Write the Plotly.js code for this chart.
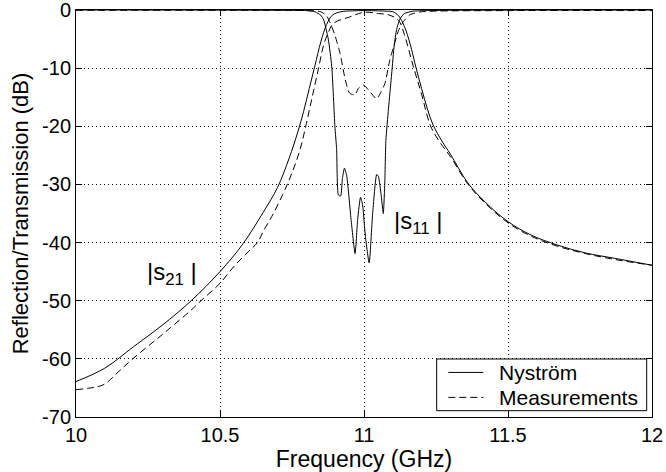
<!DOCTYPE html>
<html>
<head>
<meta charset="utf-8">
<script src="https://cdn.plot.ly/plotly-3.0.1.min.js"></script>
<style>html,body{margin:0;padding:0;background:#fff;}#chart{width:666px;height:472px;}</style>
</head>
<body>
<div id="chart"></div>
<script>
// Nyström |s21|
const nysS21Freq = [10.0,10.1,10.2,10.3,10.4,10.5,10.58,10.65,10.7,10.74,10.77,10.79,10.81,10.83,10.85,10.87,10.89,10.92,10.96,11.0,11.05,11.08,11.1,11.12,11.14,11.16,11.18,11.2,11.22,11.24,11.27,11.3,11.36,11.42,11.5,11.58,11.67,11.77,11.87,12.0];
const nysS21dB   = [-63.9,-61.6,-57.9,-54.2,-50.0,-45.0,-40.2,-34.8,-30.5,-25.5,-21.0,-17.5,-13.5,-9.5,-5.5,-2.5,-0.9,-0.3,-0.15,-0.1,-0.15,-0.2,-0.3,-1.0,-2.8,-5.8,-9.8,-13.5,-17.0,-19.8,-22.5,-24.8,-29.7,-33.0,-36.4,-38.7,-40.4,-41.8,-42.7,-43.9];
// Nyström |s11|
const nysS11Freq = [10.0,10.5,10.7,10.8,10.83,10.85,10.86,10.876,10.888,10.899,10.905,10.911,10.919,10.925,10.932,10.94,10.955,10.969,10.978,10.988,10.995,11.005,11.018,11.03,11.044,11.05,11.06,11.067,11.072,11.076,11.085,11.096,11.105,11.113,11.125,11.14,11.17,11.3,11.6,12.0];
const nysS11dB   = [0.0,-0.02,-0.05,-0.1,-0.3,-0.9,-1.7,-5.0,-9.7,-20.0,-24.0,-31.8,-32.0,-29.0,-27.2,-28.5,-36.0,-41.9,-36.0,-32.2,-33.5,-39.0,-43.5,-35.0,-28.3,-28.6,-32.0,-35.0,-30.0,-22.4,-17.0,-11.0,-6.0,-3.4,-1.5,-0.6,-0.2,-0.05,-0.02,0.0];
// Measurements |s21|
const measS21Freq = [10.0,10.05,10.097,10.15,10.197,10.3,10.4,10.434,10.5,10.55,10.6,10.63,10.653,10.68,10.72,10.75,10.778,10.8,10.82,10.84,10.86,10.875,10.894,10.95,11.0,11.05,11.09,11.12,11.14,11.17,11.2,11.23,11.26,11.3,11.36,11.42,11.5,11.58,11.67,11.77,11.87,12.0];
const measS21dB   = [-65.3,-65.0,-64.4,-62.1,-60.0,-55.8,-51.6,-50.0,-47.0,-44.0,-41.5,-40.0,-37.8,-35.5,-31.5,-28.0,-24.0,-19.5,-15.0,-10.5,-6.0,-4.0,-2.3,-1.2,-0.4,-0.6,-0.9,-1.8,-4.2,-9.5,-14.5,-19.8,-22.5,-25.2,-29.9,-33.2,-36.6,-38.9,-40.6,-41.9,-42.9,-43.9];
// Measurements |s11|
const measS11Freq = [10.0,10.5,10.8,10.85,10.87,10.885,10.9,10.917,10.935,10.95,10.969,10.98,10.998,11.02,11.044,11.06,11.073,11.09,11.102,11.12,11.137,11.16,11.2,11.5,12.0];
const measS11dB   = [-0.05,-0.05,-0.1,-0.3,-1.0,-2.5,-4.5,-7.5,-12.0,-14.3,-14.6,-13.5,-12.9,-14.0,-15.3,-14.0,-12.6,-8.5,-6.5,-3.5,-2.0,-0.8,-0.3,-0.1,-0.1];

const legendNames = ['Nyström','Measurements'];
const xTicks = [10,10.5,11,11.5,12];
const xTickText = ['10','10.5','11','11.5','12'];
const yTicks = [0,-10,-20,-30,-40,-50,-60,-70];
const yTickText = ['0','-10','-20','-30','-40','-50','-60','-70'];

const FONT = 'Liberation Sans, Arial, Helvetica, sans-serif';
const DASH = '7px,4px';
const solidS21 = {color:'#000', width:1, dash:'solid', shape:'spline', smoothing:1};
const solidS11 = {color:'#000', width:1, dash:'solid', shape:'spline', smoothing:0.5};
const dashedS21 = {color:'#000', width:1, dash:DASH, shape:'spline', smoothing:1};
const dashedS11 = {color:'#000', width:1, dash:DASH, shape:'spline', smoothing:0.6};

const traces = [
  {x:nysS21Freq, y:nysS21dB, mode:'lines', line:solidS21, name:legendNames[0], showlegend:false},
  {x:nysS11Freq, y:nysS11dB, mode:'lines', line:solidS11, name:legendNames[0], showlegend:false},
  {x:measS21Freq, y:measS21dB, mode:'lines', line:dashedS21, name:legendNames[1], showlegend:false},
  {x:measS11Freq, y:measS11dB, mode:'lines', line:dashedS11, name:legendNames[1], showlegend:false}
];

const axisCommon = {
  showline:true, linecolor:'#000', linewidth:1, mirror:'allticks',
  ticks:'inside', ticklen:6, tickcolor:'#000', tickwidth:1,
  showgrid:true, gridcolor:'#000', gridwidth:1, griddash:'1px,3px',
  zeroline:false, ticklabeloverflow:'allow',
  tickfont:{family:FONT, size:20, color:'#000'}
};

// legend box geometry (paper coordinates)
const LG = {x0:0.6262, x1:0.9908, y0:0.0155, y1:0.1425, sx0:0.6464, sx1:0.7071, tx:0.7314, row1:0.1095, row2:0.0482};

const layout = {
  width:666, height:472,
  margin:{l:76, r:14, t:10, b:55},
  paper_bgcolor:'#fff', plot_bgcolor:'#fff',
  font:{family:FONT, color:'#000'},
  showlegend:false,
  xaxis:Object.assign({}, axisCommon, {
    range:[10,12], tickmode:'array', tickvals:xTicks, ticktext:xTickText,
    title:{text:'Frequency (GHz)', font:{family:FONT, size:23, color:'#000'}, standoff:0}
  }),
  yaxis:Object.assign({}, axisCommon, {
    range:[-70,0.0001], tickmode:'array', tickvals:yTicks, ticktext:yTickText,
    title:{text:'Reflection/Transmission (dB)', font:{family:FONT, size:22, color:'#000'}, standoff:7}
  }),
  shapes:[
    {type:'rect', xref:'paper', yref:'paper', x0:LG.x0, x1:LG.x1, y0:LG.y0, y1:LG.y1,
     fillcolor:'#fff', line:{color:'#000', width:1}, layer:'above'},
    {type:'line', xref:'paper', yref:'paper', x0:LG.sx0, x1:LG.sx1, y0:LG.row1, y1:LG.row1,
     line:{color:'#000', width:1, dash:'solid'}, layer:'above'},
    {type:'line', xref:'paper', yref:'paper', x0:LG.sx0, x1:LG.sx1, y0:LG.row2, y1:LG.row2,
     line:{color:'#000', width:1, dash:DASH}, layer:'above'}
  ],
  annotations:[
    {x:10.333, y:-45.4, xref:'x', yref:'y', text:'|s<sub>21</sub> |', showarrow:false,
     font:{family:FONT, size:24, color:'#000'}},
    {x:11.19, y:-36.6, xref:'x', yref:'y', text:'|s<sub>11</sub> |', showarrow:false,
     font:{family:FONT, size:24, color:'#000'}},
    {x:LG.tx, y:LG.row1, xref:'paper', yref:'paper', xanchor:'left', yanchor:'middle',
     text:legendNames[0], showarrow:false, font:{family:FONT, size:21, color:'#000'}},
    {x:LG.tx, y:LG.row2, xref:'paper', yref:'paper', xanchor:'left', yanchor:'middle',
     text:legendNames[1], showarrow:false, font:{family:FONT, size:21, color:'#000'}}
  ]
};

Plotly.newPlot('chart', traces, layout, {staticPlot:true, displayModeBar:false});
</script>
</body>
</html>
